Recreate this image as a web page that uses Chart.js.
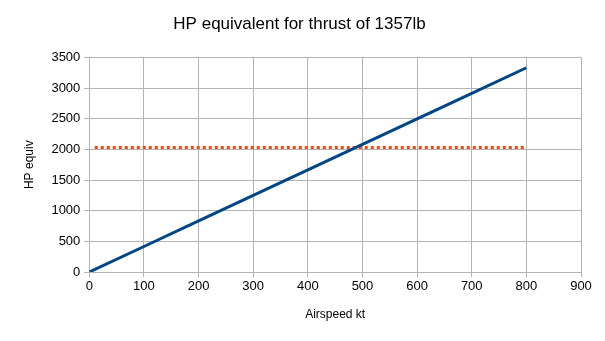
<!DOCTYPE html>
<html>
<head>
<meta charset="utf-8">
<script src="https://cdn.jsdelivr.net/npm/chart.js@4/dist/chart.umd.min.js"></script>
<style>
  html, body { margin: 0; padding: 0; background: #fff; }
  #wrap { width: 605px; height: 341px; }
</style>
</head>
<body>
<div id="wrap"><canvas id="chart-hp"></canvas></div>
<script>
// airspeed (kt) and horsepower equivalent
const airspeed = [0, 100, 200, 300, 400, 500, 600, 700, 800];
const hpEquiv = [0, 416, 833, 1249, 1666, 2082, 2499, 2915, 3331];
const refSpeed = [10, 800];
const refHp = [2030, 2030];
const xTicks = [0, 100, 200, 300, 400, 500, 600, 700, 800, 900];
const yTicks = [0, 500, 1000, 1500, 2000, 2500, 3000, 3500];

const canvasHp = document.getElementById('chart-hp');
const fontFamily = "'Liberation Sans', Arial, sans-serif";

const toPoints = (xs, ys) => xs.map((x, i) => ({ x, y: ys[i] }));

new Chart(canvasHp, {
    type: 'scatter',
    data: {
        datasets: [{
            label: 'HP equiv',
            data: toPoints(airspeed, hpEquiv),
            showLine: true,
            borderColor: '#004586',
            borderWidth: 3,
            pointRadius: 0,
            order: 1
        }, {
            label: 'Reference',
            data: toPoints(refSpeed, refHp),
            showLine: true,
            borderColor: '#ff420e',
            borderWidth: 3,
            borderDash: [3, 3],
            pointRadius: 0,
            order: 2
        }]
    },
    options: {
        responsive: true,
        maintainAspectRatio: false,
        animation: false,
        layout: { padding: { left: 18, right: 24, top: 0, bottom: 15 } },
        plugins: {
            legend: { display: false },
            tooltip: { enabled: false },
            title: {
                display: true,
                text: 'HP equivalent for thrust of 1357lb',
                color: '#000',
                font: { family: fontFamily, size: 17, weight: 'normal' },
                padding: { top: 14, bottom: 23 }
            }
        },
        scales: {
            x: {
                type: 'linear',
                min: 0,
                max: 900,
                afterBuildTicks: axis => { axis.ticks = xTicks.map(v => ({ value: v })); },
                grid: { color: '#b3b3b3', tickLength: 5, lineWidth: 1 },
                border: { color: '#b3b3b3' },
                ticks: {
                    color: '#000',
                    font: { family: fontFamily, size: 13 },
                    padding: 2,
                    maxRotation: 0,
                    callback: v => String(v)
                },
                title: {
                    display: true,
                    text: 'Airspeed kt',
                    color: '#000',
                    font: { family: fontFamily, size: 12 },
                    padding: { top: 11 }
                }
            },
            y: {
                min: 0,
                max: 3500,
                afterBuildTicks: axis => { axis.ticks = yTicks.map(v => ({ value: v })); },
                grid: { color: '#b3b3b3', tickLength: 5, lineWidth: 1 },
                border: { color: '#b3b3b3' },
                ticks: {
                    color: '#000',
                    font: { family: fontFamily, size: 13 },
                    padding: 4,
                    callback: v => String(v)
                },
                title: {
                    display: true,
                    text: 'HP equiv',
                    color: '#000',
                    font: { family: fontFamily, size: 12 },
                    padding: { bottom: 11 }
                }
            }
        }
    }
});
</script>
</body>
</html>
